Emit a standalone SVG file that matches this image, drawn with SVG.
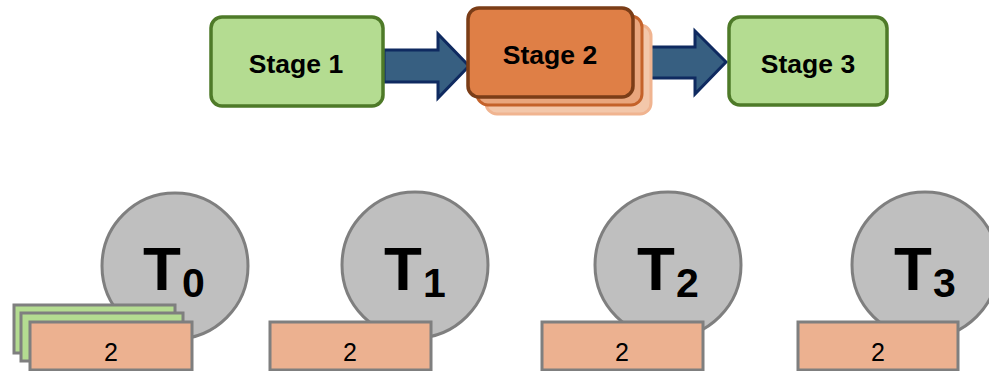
<svg xmlns="http://www.w3.org/2000/svg" width="989" height="371" viewBox="0 0 989 371">
  <style>
    .stage { fill: #b4dc91; stroke: #4e7a28; stroke-width: 3.5; }
    .s2a { fill: #df7f46; stroke: #7b3d17; stroke-width: 3.5; }
    .s2b { fill: #e9a67d; stroke: #c4622a; stroke-width: 3; }
    .s2c { fill: #f3c7aa; stroke: #f0b490; stroke-width: 3; }
    .arrow { fill: #375f81; stroke: #0f2a60; stroke-width: 3; stroke-linejoin: miter; }
    .lbl { font-family: "Liberation Sans", Arial, sans-serif; font-weight: bold; font-size: 26.5px; fill: #000; text-anchor: middle; }
    .thread { fill: #bfbfbf; stroke: #7f7f7f; stroke-width: 3; }
    .tname { font-family: "Liberation Sans", Arial, sans-serif; font-weight: bold; fill: #000; }
    .item { fill: #ecb190; stroke: #7f7f7f; stroke-width: 3; }
    .itemg { fill: #b4dc91; stroke: #7f7f7f; stroke-width: 3; }
    .num { font-family: "Liberation Sans", Arial, sans-serif; font-size: 25px; fill: #000; text-anchor: middle; }
  </style>

  <!-- pipeline connectors -->
  <g id="connectors">
    <polygon class="arrow" points="384,50 438,50 438,34 469,66 438,98 438,82 384,82"/>
    <polygon class="arrow" points="640,47 695,47 695,31 726,62 695,94 695,78 640,78"/>
  </g>

  <g id="stage1">
    <rect class="stage" x="211" y="17" width="172" height="89" rx="11"/>
    <text class="lbl" x="296" y="73">Stage 1</text>
  </g>

  <g id="stage2">
    <rect class="s2c" x="486" y="25" width="165" height="89" rx="11"/>
    <rect class="s2b" x="477" y="16" width="165" height="89" rx="11"/>
    <rect class="s2a" x="468" y="8" width="165" height="89" rx="11"/>
    <text class="lbl" x="550" y="64">Stage 2</text>
  </g>

  <g id="stage3">
    <rect class="stage" x="729" y="17" width="158" height="88" rx="11"/>
    <text class="lbl" x="808" y="73">Stage 3</text>
  </g>

  <!-- threads with their work items -->
  <g id="t0">
    <circle class="thread" cx="175" cy="266" r="73"/>
    <text class="tname" x="143" y="290" font-size="62">T</text>
    <text class="tname" x="182" y="297" font-size="41">0</text>
    <rect class="itemg" x="14" y="305" width="161" height="48"/>
    <rect class="itemg" x="21" y="313" width="162" height="48"/>
    <rect class="item" x="30" y="322" width="162" height="48"/>
    <text class="num" x="111" y="361">2</text>
  </g>

  <g id="t1">
    <circle class="thread" cx="415" cy="265" r="73"/>
    <text class="tname" x="384" y="290" font-size="62">T</text>
    <text class="tname" x="423" y="297" font-size="41">1</text>
    <rect class="item" x="270" y="322" width="161" height="48"/>
    <text class="num" x="350" y="361">2</text>
  </g>

  <g id="t2">
    <circle class="thread" cx="668" cy="265" r="73"/>
    <text class="tname" x="637" y="290" font-size="62">T</text>
    <text class="tname" x="676" y="297" font-size="41">2</text>
    <rect class="item" x="542" y="322" width="161" height="48"/>
    <text class="num" x="622" y="361">2</text>
  </g>

  <g id="t3">
    <circle class="thread" cx="925" cy="265" r="73"/>
    <text class="tname" x="894" y="290" font-size="62">T</text>
    <text class="tname" x="933" y="297" font-size="41">3</text>
    <rect class="item" x="798" y="322" width="160" height="48"/>
    <text class="num" x="878" y="361">2</text>
  </g>
</svg>
